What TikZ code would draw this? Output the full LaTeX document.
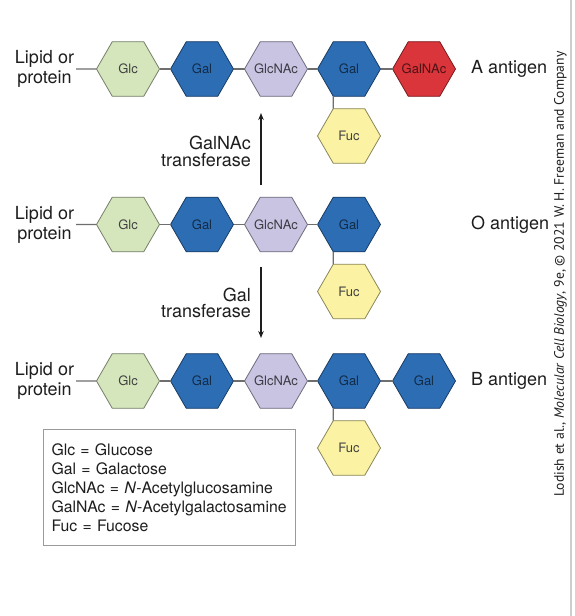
\documentclass[tikz,border=0pt]{standalone}
\usepackage{fontspec}
\setmainfont{TeX Gyre Heros}
\newfontfamily\creditfont{PT Sans}
\usetikzlibrary{shapes.geometric,arrows.meta}
\definecolor{glc}{HTML}{D5E6BD}
\definecolor{gal}{HTML}{2D6DB4}
\definecolor{glcnac}{HTML}{C8C4E1}
\definecolor{galnac}{HTML}{DA353B}
\definecolor{fuc}{HTML}{FBF3A3}
\definecolor{linkgray}{HTML}{6E6E6E}
\definecolor{boxgray}{HTML}{9A9A9A}
\definecolor{edgegray}{HTML}{CDCDCD}
\definecolor{txt}{HTML}{1E1E1E}
\newcommand{\hexlabel}[1]{\makebox[0pt][c]{#1}}
\begin{document}
\begin{tikzpicture}[x=1pt,y=-1pt,
  hex/.style={regular polygon, regular polygon sides=6, minimum size=63pt,
    inner sep=0pt, outer sep=0pt, fill=#1, draw=#1!55!black, line width=0.8pt,
    font=\fontsize{13}{15}\selectfont},
  glcs/.style={hex=glc, text=black!75},
  gals/.style={hex=gal, text=gal!40!black},
  glcnacs/.style={hex=glcnac, text=glcnac!30!black},
  galnacs/.style={hex=galnac, text=galnac!35!black},
  fucs/.style={hex=fuc, text=black!75},
  link/.style={draw=linkgray, line width=1.3pt},
  big/.style={font=\fontsize{18}{20}\selectfont, text=txt},
  lipid/.style={big, align=center, inner sep=2pt},
  antigen/.style={big, anchor=west, inner sep=0pt},
  enzyme/.style={font=\fontsize{18}{16.5}\selectfont, text=txt, align=right, anchor=east, inner sep=0pt},
  react/.style={draw=txt, line width=1.2pt, -{Stealth[length=7pt,width=5.5pt]}},
]
\useasboundingbox (0,0) rectangle (574,616);
\fill[white] (0,0) rectangle (574,616);
\draw[edgegray, line width=1.5pt] (571,0) -- (571,616);

\foreach \r/\y in {1/69,2/224.5,3/381}{
  \node[lipid] (lip\r) at (44.5,\y) {Lipid or\\protein};
  \node[glcs] (glc\r) at (128,\y) {\hexlabel{Glc}};
  \node[gals] (gala\r) at (202,\y) {\hexlabel{Gal}};
  \node[glcnacs] (glcnac\r) at (276,\y) {\hexlabel{GlcNAc}};
  \node[gals] (galb\r) at (349,\y) {\hexlabel{Gal}};
  \node[fucs] (fuc\r) at (349,\y+67) {\hexlabel{Fuc}};
  \draw[link] (lip\r.east) -- (glc\r.180);
  \draw[link] (glc\r.0) -- (gala\r.180);
  \draw[link] (gala\r.0) -- (glcnac\r.180);
  \draw[link] (glcnac\r.0) -- (galb\r.180);
  \draw[link] (galb\r.240) -- (fuc\r.120);
}

\node[galnacs] (galnacA) at (424,69) {\hexlabel{GalNAc}};
\draw[link] (galb1.0) -- (galnacA.180);
\node[gals] (galB) at (424,381) {\hexlabel{Gal}};
\draw[link] (galb3.0) -- (galB.180);

\node[antigen] (agA) at (471,69) {A antigen};
\node[antigen] (agO) at (471,224.5) {O antigen};
\node[antigen] (agB) at (471,381) {B antigen};

\coordinate (upS) at (261,185);
\coordinate (upE) at (261,113);
\draw[react] (upS) -- (upE);
\node[enzyme] (enzA) at (251,151.5) {GalNAc\\transferase};

\coordinate (dnS) at (261,267);
\coordinate (dnE) at (261,338);
\draw[react] (dnS) -- (dnE);
\node[enzyme] (enzB) at (251,303) {Gal\\transferase};

\node[draw=boxgray, line width=1pt, anchor=north west, inner xsep=8pt, inner ysep=14pt,
  text width=236pt, align=left, font=\fontsize{15.8}{19}\selectfont, text=txt] (legend) at (43,429)
  {Glc = Glucose\\Gal = Galactose\\GlcNAc = \textit{N}-Acetylglucosamine\\GalNAc = \textit{N}-Acetylgalactosamine\\Fuc = Fucose};

\node[rotate=90, inner sep=0pt, font=\creditfont\fontsize{13.7}{15}\selectfont, text=txt] (credit) at (560.5,274)
  {Lodish et al., \textit{Molecular Cell Biology}, 9e, © 2021 W. H. Freeman and Company};
\end{tikzpicture}
\end{document}
